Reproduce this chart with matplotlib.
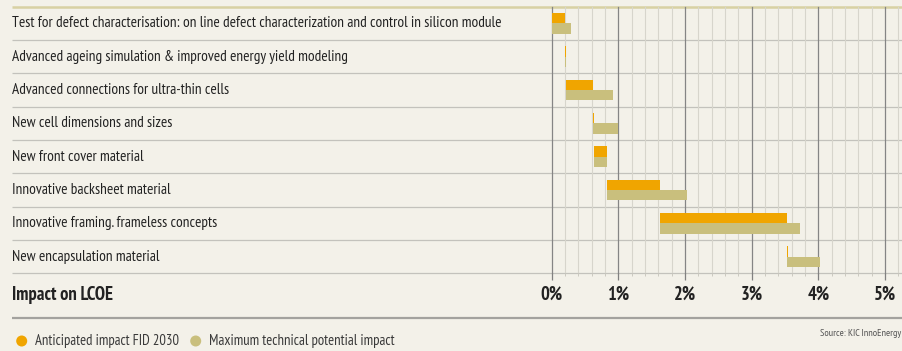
import numpy as np
import matplotlib
matplotlib.use("Agg")
import matplotlib.pyplot as plt
import matplotlib.transforms as mtransforms
from matplotlib.patches import Circle
from matplotlib import font_manager

# ---------------- data ----------------
categories = [
    "Test for defect characterisation: on line defect characterization and control in silicon module",
    "Advanced ageing simulation & improved energy yield modeling",
    "Advanced connections for ultra-thin cells",
    "New cell dimensions and sizes",
    "New front cover material",
    "Innovative backsheet material",
    "Innovative framing. frameless concepts",
    "New encapsulation material",
]
anticipated = [0.20, 0.015, 0.40, 0.015, 0.20, 0.80, 1.90, 0.015]   # % LCOE
maximum = [0.29, 0.015, 0.70, 0.38, 0.20, 1.20, 2.10, 0.50]         # % LCOE
tick_values = [0, 1, 2, 3, 4, 5]
tick_labels = ["0%", "1%", "2%", "3%", "4%", "5%"]
legend_labels = ["Anticipated impact FID 2030", "Maximum technical potential impact"]
axis_title = "Impact on LCOE"
source_text = "Source: KIC InnoEnergy"

# ---------------- style ----------------
names = {f.name for f in font_manager.fontManager.ttflist}
FONT = "DejaVu Sans"
for cand in ["PT Sans Narrow", "Fira Sans Condensed", "Archivo Narrow", "Asap Condensed",
             "Barlow Semi Condensed", "Liberation Sans Narrow"]:
    if cand in names:
        FONT = cand
        break
plt.rcParams["font.family"] = [FONT, "DejaVu Sans"]

BG = "#f3f1e9"
ORANGE = "#f0a500"
KHAKI = "#c9bf7d"
TEXT = "#222222"

W, H = 903, 351
fig = plt.figure(figsize=(W / 100, H / 100), dpi=100, facecolor=BG)
renderer = fig.canvas.get_renderer()


def fit(t, target_w):
    """scale a text's font size so that its rendered width is target_w pixels"""
    w = t.get_window_extent(renderer=renderer).width
    if w > 0:
        t.set_fontsize(t.get_fontsize() * target_w / w)
    return t


# overlay axes in pixel coordinates
ov = fig.add_axes([0, 0, 1, 1], zorder=0)
ov.set_xlim(0, W)
ov.set_ylim(H, 0)
ov.axis("off")

# bar axes
x0_px, top_px, bot_px = 551.7, 6.7, 273.3
px_per_pct = 66.67
ax = fig.add_axes([x0_px / W, (H - bot_px) / H, (W - x0_px) / W, (bot_px - top_px) / H], zorder=1)
ax.patch.set_alpha(0)
n = len(categories)
ax.set_xlim(0, (W - x0_px) / px_per_pct)
ax.set_ylim(n, 0)
for s in ax.spines.values():
    s.set_visible(False)

ax.set_xticks(tick_values)
ax.set_xticks(np.arange(0, 5.4, 0.2), minor=True)
ax.set_yticks([])
ax.tick_params(axis="x", which="major", length=5, width=0.9, color="#808080",
               labelbottom=False, direction="out")
ax.tick_params(axis="x", which="minor", length=2.5, width=0.7, color="#cbc9c0",
               labelbottom=False, direction="out")
ax.grid(True, axis="x", which="major", color="#858585", lw=0.9, zorder=0)
ax.grid(True, axis="x", which="minor", color="#d7d5cc", lw=0.8, zorder=0)
ax.set_axisbelow(True)
for gl in ax.get_xgridlines():
    gl.set_clip_on(False)

ant = np.array(anticipated)
mx = np.array(maximum)
start = np.concatenate([[0], np.cumsum(ant)[:-1]])
ypos = np.arange(n) + 0.5
bh = 0.31
ax.barh(ypos - bh / 2, ant, left=start, height=bh, color=ORANGE, lw=0, zorder=3)
ax.barh(ypos + bh / 2, mx, left=start, height=bh, color=KHAKI, lw=0, zorder=3)

# row separators
row_h = (bot_px - top_px) / n
ov.plot([11.7, W], [top_px, top_px], color="#d8d1a3", lw=1.8, solid_capstyle="butt")
for k in range(1, n + 1):
    y = top_px + row_h * k
    ov.plot([11.7, W], [y, y], color="#c3c2bc", lw=0.9, solid_capstyle="butt")

# category labels
blend_y = mtransforms.blended_transform_factory(ov.transData, ax.transData)
label_texts = []
for i, c in enumerate(categories):
    t = ax.text(11.7, ypos[i], c, transform=blend_y, va="center", ha="left",
                fontsize=10, color=TEXT)
    label_texts.append(t)
fit(label_texts[0], 488)
for t in label_texts[1:]:
    t.set_fontsize(label_texts[0].get_fontsize())

# bottom axis row
title_t = ov.text(11.7, 295, axis_title, fontsize=11, fontweight="bold", va="center", ha="left", color=TEXT)
fit(title_t, 101)
blend_x = mtransforms.blended_transform_factory(ax.transData, ov.transData)
for v, lab in zip(tick_values, tick_labels):
    ax.text(v, 295, lab, transform=blend_x, fontsize=title_t.get_fontsize(), fontweight="bold",
            va="center", ha="center", color=TEXT, clip_on=False)
ov.plot([11.7, W], [317.7, 317.7], color="#a3a29e", lw=1.6, solid_capstyle="butt")

# legend
leg_w = [145, 187]
for (cx, col, tx, lab), lw_ in zip([(21.7, ORANGE, 35, legend_labels[0]),
                                    (195.7, KHAKI, 209.3, legend_labels[1])], leg_w):
    ov.add_patch(Circle((cx, 341), 5.5, color=col, lw=0))
    t = ov.text(tx, 341, lab, fontsize=10, va="center", ha="left", color="#3a3a3a")
    fit(t, lw_)

src = ov.text(901, 333, source_text, fontsize=7, style="italic", va="center", ha="right", color="#555555")
fit(src, 82)

fig.savefig("out.png", dpi=100, facecolor=BG)
